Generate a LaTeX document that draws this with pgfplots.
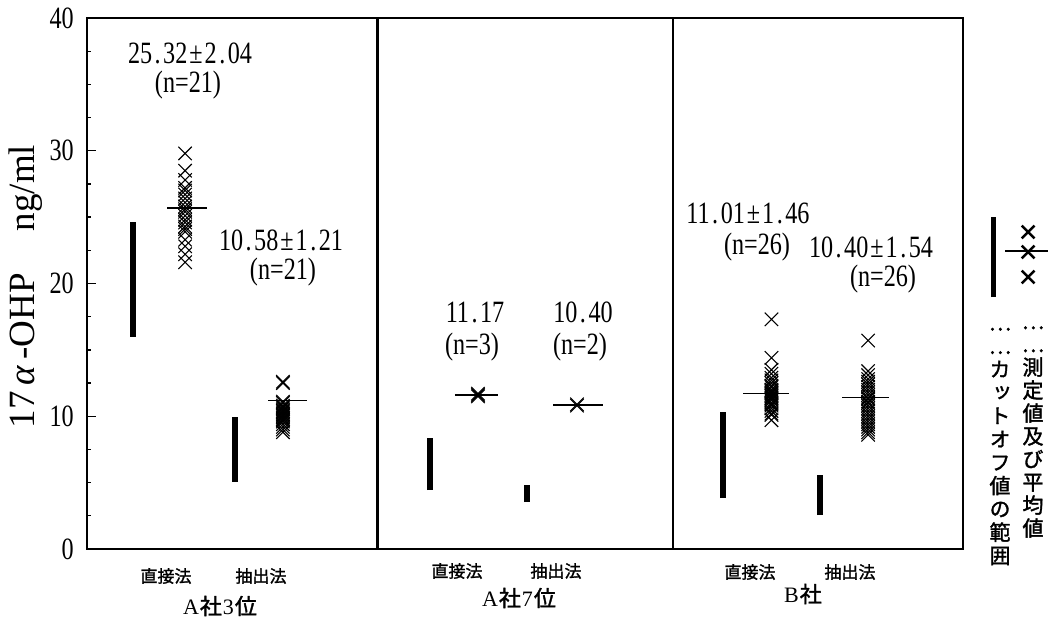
\documentclass[border=0pt]{standalone}
\usepackage{pgfplots}
\pgfplotsset{compat=1.18}
\usepackage{fontspec}
\setmainfont{Liberation Serif}
\newfontfamily\numf{Liberation Serif}[FakeStretch=0.78]
\newfontfamily\cjk{Noto Sans CJK JP}[FakeBold=1.6]
\newfontfamily\cjkv{Noto Sans CJK JP}[RawFeature=+vert, FakeBold=1.6]
\newcommand\ann{\numf\fontsize{31}{34}\selectfont}
\newcommand\pd{\kern2.5pt.\kern2.5pt}
\newcommand\PM{\kern2pt±\kern2pt}
\newcommand\catf{\cjk\fontsize{17}{20}\selectfont}
\newcommand\grpf{\fontsize{22}{24}\selectfont}
\begin{document}
\begin{tikzpicture}
\useasboundingbox (0,0) rectangle (1052pt,618pt);
\begin{axis}[
  at={(87pt,69pt)}, anchor=south west,
  width=876pt, height=531pt, scale only axis,
  xmin=0, xmax=3, ymin=0, ymax=40, clip=false,
  xtick=\empty,
  ytick={0,10,20,30,40},
  minor ytick={2.5,5,...,37.5},
  ytick pos=left,
  tick align=inside,
  major tick length=9pt, minor tick length=4pt,
  every tick/.style={black, line width=1.3pt},
  axis line style={line width=2.2pt},
  /pgf/number format/assume math mode=true,
  yticklabel style={font=\numf\fontsize{31}{31}\selectfont, inner sep=0pt, xshift=-13pt},
]
% panel separators
\addplot[line width=2.2pt] coordinates {(0.995,0) (0.995,40)};
\addplot[line width=2.2pt] coordinates {(2.007,0) (2.007,40)};
% cutoff ranges (thick bars)
\addplot[line width=6pt] coordinates {(0.158,15.97) (0.158,24.63)};
\addplot[line width=6pt] coordinates {(0.507,5.05) (0.507,9.94)};
\addplot[line width=6pt] coordinates {(1.175,4.44) (1.175,8.36)};
\addplot[line width=6pt] coordinates {(1.507,3.54) (1.507,4.82)};
\addplot[line width=6pt] coordinates {(2.178,3.84) (2.178,10.32)};
\addplot[line width=6pt] coordinates {(2.510,2.56) (2.510,5.57)};
% measured values
\addplot[only marks, mark=x, mark size=9.5pt, mark options={line width=1.1pt}] coordinates {
 (0.336,29.8) (0.336,28.5) (0.336,27.8) (0.336,27.2) (0.336,27.0) (0.336,26.7) (0.336,26.4)
 (0.336,26.1) (0.336,25.8) (0.336,25.6) (0.336,25.4) (0.336,25.1) (0.336,24.8) (0.336,24.6)
 (0.336,24.3) (0.336,24.1) (0.336,23.9) (0.336,23.3) (0.336,22.8) (0.336,22.2) (0.336,21.6)};
\addplot[only marks, mark=x, mark size=9.5pt, mark options={line width=1.1pt}] coordinates {
 (0.671,12.6) (0.671,12.5) (0.671,11.1) (0.671,11.0) (0.671,10.8) (0.671,10.7) (0.671,10.6)
 (0.671,10.5) (0.671,10.4) (0.671,10.3) (0.671,10.2) (0.671,10.1) (0.671,10.0) (0.671,9.9)
 (0.671,9.8) (0.671,9.7) (0.671,9.6) (0.671,9.4) (0.671,9.2) (0.671,9.0) (0.671,8.8)};
\addplot[only marks, mark=x, mark size=9.5pt, mark options={line width=1.1pt}] coordinates {
 (1.339,11.5) (1.339,11.6) (1.339,11.7)};
\addplot[only marks, mark=x, mark size=9.5pt, mark options={line width=1.1pt}] coordinates {
 (1.678,10.8) (1.678,10.9)};
\addplot[only marks, mark=x, mark size=9.5pt, mark options={line width=1.1pt}] coordinates {
 (2.344,17.3) (2.344,14.4) (2.344,13.5) (2.344,13.2) (2.344,12.9) (2.344,12.7) (2.344,12.5)
 (2.344,12.3) (2.344,12.2) (2.344,12.0) (2.344,11.9) (2.344,11.8) (2.344,11.7) (2.344,11.6)
 (2.344,11.5) (2.344,11.4) (2.344,11.3) (2.344,11.2) (2.344,11.0) (2.344,10.9) (2.344,10.8)
 (2.344,10.6) (2.344,10.4) (2.344,10.2) (2.344,10.1) (2.344,9.7)};
\addplot[only marks, mark=x, mark size=9.5pt, mark options={line width=1.1pt}] coordinates {
 (2.675,15.7) (2.675,13.4) (2.675,13.1) (2.675,12.8) (2.675,12.6) (2.675,12.4) (2.675,12.2)
 (2.675,12.0) (2.675,11.8) (2.675,11.6) (2.675,11.4) (2.675,11.3) (2.675,11.1) (2.675,11.0)
 (2.675,10.8) (2.675,10.6) (2.675,10.4) (2.675,10.2) (2.675,10.0) (2.675,9.8) (2.675,9.6)
 (2.675,9.4) (2.675,9.2) (2.675,9.0) (2.675,8.8) (2.675,8.6)};
% mean lines
\addplot[line width=1.5pt] coordinates {(0.274,25.7) (0.411,25.7)};
\addplot[line width=1.5pt] coordinates {(0.620,11.2) (0.753,11.2)};
\addplot[line width=1.5pt] coordinates {(1.260,11.6) (1.408,11.6)};
\addplot[line width=1.5pt] coordinates {(1.596,10.85) (1.767,10.85)};
\addplot[line width=1.5pt] coordinates {(2.247,11.7) (2.404,11.7)};
\addplot[line width=1.5pt] coordinates {(2.586,11.4) (2.747,11.4)};
% legend symbols
\addplot[line width=5pt] coordinates {(3.103,18.98) (3.103,25.01)};
\addplot[line width=1.5pt] coordinates {(3.144,22.45) (3.291,22.45)};
\addplot[only marks, mark=x, mark size=9pt, mark options={line width=2.6pt}] coordinates {
 (3.223,23.88) (3.223,22.37) (3.223,20.49)};
\end{axis}
% annotations
\node[font=\ann, inner sep=0pt] at (190pt,565pt) {25\pd32\PM2\pd04};
\node[font=\ann, inner sep=0pt] at (188pt,533pt) {(n=21)};
\node[font=\ann, inner sep=0pt] at (281pt,378pt) {10\pd58\PM1\pd21};
\node[font=\ann, inner sep=0pt] at (283pt,346pt) {(n=21)};
\node[font=\ann, inner sep=0pt] at (475pt,306pt) {11\pd17};
\node[font=\ann, inner sep=0pt] at (472pt,271pt) {(n=3)};
\node[font=\ann, inner sep=0pt] at (583pt,306pt) {10\pd40};
\node[font=\ann, inner sep=0pt] at (580pt,271pt) {(n=2)};
\node[font=\ann, inner sep=0pt] at (748pt,405pt) {11\pd01\PM1\pd46};
\node[font=\ann, inner sep=0pt] at (757pt,371pt) {(n=26)};
\node[font=\ann, inner sep=0pt] at (871pt,371pt) {10\pd40\PM1\pd54};
\node[font=\ann, inner sep=0pt] at (883pt,339pt) {(n=26)};
% category labels
\node[font=\catf, inner sep=0pt] at (166pt,42pt) {直接法};
\node[font=\catf, inner sep=0pt] at (261pt,42pt) {抽出法};
\node[font=\grpf, inner sep=0pt] at (220pt,12pt) {A\kern1pt{\cjk 社}\kern1pt3\kern1pt{\cjk 位}};
\node[font=\catf, inner sep=0pt] at (457pt,47pt) {直接法};
\node[font=\catf, inner sep=0pt] at (556pt,47pt) {抽出法};
\node[font=\grpf, inner sep=0pt] at (519pt,20pt) {A\kern1pt{\cjk 社}\kern1pt7\kern1pt{\cjk 位}};
\node[font=\catf, inner sep=0pt] at (750pt,46pt) {直接法};
\node[font=\catf, inner sep=0pt] at (850pt,46pt) {抽出法};
\node[font=\grpf, inner sep=0pt] at (803pt,24pt) {B\kern1pt{\cjk 社}};
% y label
\node[rotate=90, font=\fontsize{37}{40}\selectfont, inner sep=0pt] at (26pt,331.5pt) {17\,{\itshape α}\,-OHP\hspace{42pt}ng/ml};
% legend texts (vertical)
\node[font=\cjkv\fontsize{21}{23.3}\selectfont, align=center, inner sep=0pt] at (1000pt,171.5pt) {…\\…\\カ\\ッ\\ト\\オ\\フ\\値\\の\\範\\囲};
\node[font=\cjkv\fontsize{21}{23}\selectfont, align=center, inner sep=0pt] at (1033pt,186pt) {…\\…\\測\\定\\値\\及\\び\\平\\均\\値};
\end{tikzpicture}
\end{document}
